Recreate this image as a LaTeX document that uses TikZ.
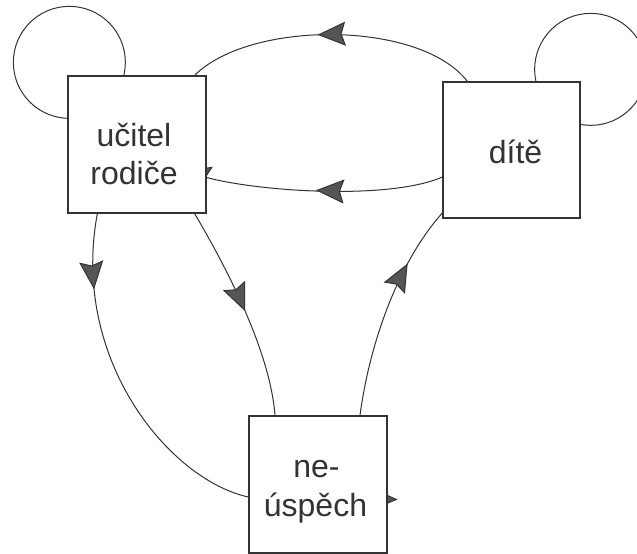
\documentclass[tikz,border=0pt]{standalone}
\usepackage{fontspec}
\setmainfont{Liberation Sans}
\usetikzlibrary{arrows.meta,decorations.markings,backgrounds,calc}
\definecolor{linec}{HTML}{333333}
\definecolor{tipc}{HTML}{555555}
\definecolor{textc}{HTML}{333333}
\tikzset{
  tipst/.tip={Stealth[length=28pt,width=24pt,inset=4pt,fill=tipc]},
  box/.style={draw=linec, line width=1.3pt, fill=white, inner sep=0pt},
  lbl/.style={text=textc, font=\fontsize{32}{38}\selectfont, anchor=base, inner sep=0pt},
  conn/.style={draw=linec, line width=1pt},
  midarrow/.style={postaction={decorate}, decoration={markings, mark=at position #1 with {\arrow{tipst}}}},
}
\begin{document}
\begin{tikzpicture}[x=1pt,y=-1pt]
\useasboundingbox (0,0) rectangle (637,554);
\clip (0,0) rectangle (637,554);
% boxes
\node[box, minimum width=138pt, minimum height=137pt] (ucitel) at (137,144.5) {};
\node[box, minimum width=137pt, minimum height=136pt] (dite) at (511.5,150) {};
\node[box, minimum width=138pt, minimum height=137pt] (neusp) at (318,484.5) {};
% labels
\node[lbl] (t1) at (134,146) {učitel};
\node[lbl] (t2) at (134,184) {rodiče};
\node[lbl] (t3) at (515.5,163) {dítě};
\node[lbl] (t4) at (316.5,477) {ne-};
\node[lbl] (t5) at (315.5,516) {úspěch};
\begin{pgfonlayer}{background}
% self loops
\draw[conn] ([xshift=2pt,yshift=13pt]ucitel.north west) circle[radius=56pt];
\draw[conn] ([xshift=10pt,yshift=12pt]dite.north east) circle[radius=56pt];
% connectors
\draw[conn, midarrow=162pt] ([xshift=25pt]dite.north west) .. controls (420,20) and (250,20) .. ([xshift=-12pt]ucitel.north east);
\draw[conn, midarrow=128pt, -{tipst}] ([yshift=-27pt]dite.west) .. controls (390,200) and (260,192) .. ([xshift=-24pt,yshift=-26.5pt]ucitel.east);
\draw[conn, midarrow=76pt, -{tipst}] ([xshift=30pt]ucitel.south west) .. controls (70,360) and (170,480) .. ([yshift=-12.5pt]neusp.west) -- ([xshift=10pt,yshift=-15pt]neusp.east);
\draw[conn, midarrow=110pt] ([xshift=-12pt]ucitel.south east) .. controls (225,265) and (270,350) .. ([xshift=-43pt]neusp.north);
\draw[conn, midarrow=160pt] ([xshift=42pt]neusp.north) .. controls (370,340) and (400,260) .. ([yshift=-63pt]dite.west);
\end{pgfonlayer}
\end{tikzpicture}
\end{document}
